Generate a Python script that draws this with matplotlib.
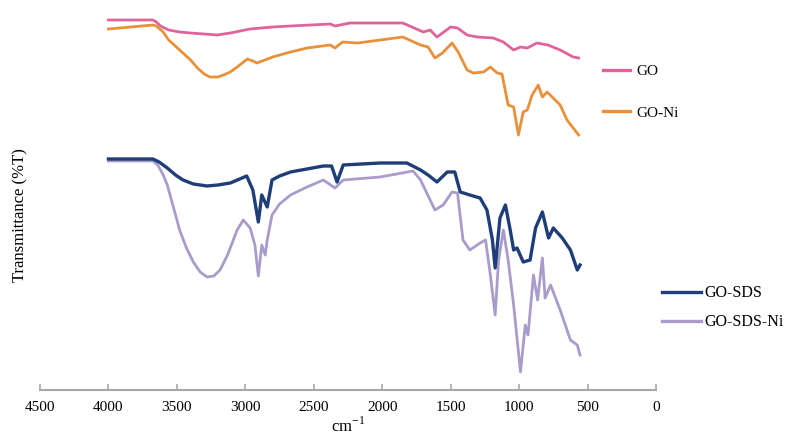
import matplotlib.pyplot as plt
from matplotlib.lines import Line2D

plt.rcParams['font.family'] = ['Liberation Serif', 'DejaVu Serif']

# wavenumber (cm-1) / transmittance (arbitrary units)
go_x = [4000, 3675, 3650, 3620, 3560, 3480, 3400, 3300, 3205, 3110, 2965, 2800, 2670,
        2380, 2345, 2235, 1940, 1850, 1700, 1650, 1600, 1500, 1450, 1380, 1305, 1190,
        1115, 1040, 990, 940, 870, 790, 700, 605, 565]
go_y = [370, 370, 368, 364, 360, 358, 357, 356, 355, 357, 361, 363, 364,
        366, 364, 367, 367, 367, 358, 360, 353, 363, 362, 355, 353, 352,
        348, 340, 343, 342, 347, 345, 340, 333, 332]

goni_x = [4000, 3675, 3650, 3600, 3560, 3480, 3400, 3350, 3300, 3260, 3200, 3160, 3110,
          3060, 2985, 2945, 2915, 2800, 2670, 2550, 2380, 2345, 2290, 2180, 2015, 1850,
          1720, 1665, 1615, 1560, 1490, 1445, 1380, 1335, 1260, 1210, 1160, 1125, 1080,
          1040, 1005, 970, 940, 905, 860, 830, 795, 700, 650, 605, 565]
goni_y = [361, 365, 364, 358, 350, 340, 330, 322, 316, 313, 313, 315, 318,
          323, 331, 329, 327, 333, 338, 342, 345, 342, 348, 347, 350, 353,
          345, 343, 332, 337, 347, 338, 320, 317, 318, 323, 317, 316, 285,
          283, 255, 278, 280, 295, 305, 293, 298, 285, 270, 262, 255]

sds_x = [4000, 3675, 3630, 3570, 3510, 3455, 3380, 3280, 3200, 3110, 2990, 2945, 2905,
         2880, 2840, 2805, 2750, 2670, 2550, 2430, 2370, 2330, 2285, 2015, 1820, 1720,
         1665, 1600, 1525, 1470, 1430, 1360, 1285, 1235, 1195, 1175, 1140, 1100, 1065,
         1040, 1015, 970, 920, 880, 830, 785, 750, 685, 625, 575, 555]
sds_y = [231, 231, 228, 222, 215, 210, 206, 204, 205, 207, 214, 200, 168,
         195, 183, 210, 214, 218, 221, 224, 224, 208, 225, 227, 227, 220,
         215, 208, 218, 218, 198, 195, 192, 180, 150, 122, 172, 185, 160,
         140, 142, 128, 130, 162, 178, 152, 162, 152, 140, 120, 125]

sdsni_x = [4000, 3675, 3640, 3600, 3570, 3530, 3480, 3430, 3380, 3330, 3280, 3230, 3185,
           3130, 3060, 3015, 2965, 2930, 2905, 2880, 2855, 2840, 2805, 2750, 2670, 2550,
           2430, 2345, 2285, 2015, 1775, 1720, 1615, 1555, 1490, 1450, 1410, 1360, 1285,
           1245, 1210, 1175, 1150, 1115, 1080, 1040, 990, 955, 935, 895, 865, 830,
           810, 770, 700, 625, 575, 555]
sdsni_y = [229, 229, 225, 215, 205, 185, 160, 142, 128, 118, 113, 114, 120,
           135, 160, 170, 162, 145, 114, 145, 135, 150, 175, 186, 195, 203,
           210, 202, 210, 213, 219, 210, 180, 185, 198, 197, 150, 140, 147,
           150, 115, 75, 130, 160, 130, 85, 18, 65, 55, 115, 90, 132,
           92, 105, 80, 50, 45, 35]

labels = ['GO', 'GO-Ni', 'GO-SDS', 'GO-SDS-Ni']
colors = ['#e0649c', '#e8913a', '#1f3d78', '#a99ccb']
xticks = [4500, 4000, 3500, 3000, 2500, 2000, 1500, 1000, 500, 0]

fig = plt.figure(figsize=(7.91, 4.47), dpi=100)
ax = fig.add_axes([40 / 791, 57 / 447, 616 / 791, 390 / 447])

ax.plot(go_x, go_y, color=colors[0], lw=2)
ax.plot(goni_x, goni_y, color=colors[1], lw=2)
ax.plot(sdsni_x, sdsni_y, color=colors[3], lw=2)
ax.plot(sds_x, sds_y, color=colors[2], lw=2.4)

ax.set_xlim(4500, 0)
ax.set_ylim(0, 390)
ax.set_xticks(xticks)
ax.set_yticks([])
for s in ['top', 'right', 'left']:
    ax.spines[s].set_visible(False)
ax.spines['bottom'].set_color('#a8a8a8')
ax.spines['bottom'].set_linewidth(1.5)
ax.tick_params(axis='x', direction='in', length=4, width=1.2, color='#a8a8a8',
               labelsize=11, pad=8)
ax.set_xlabel('cm$^{\\mathregular{-1}}$', fontsize=12, labelpad=2)
fig.text(20 / 791, 1 - 215 / 447, 'Transmittance (%T)', rotation=90,
         ha='center', va='center', fontsize=12)

h = [Line2D([], [], color=c, lw=2.4) for c in colors]
leg1 = ax.legend(h[:2], labels[:2], loc='upper left', frameon=False, fontsize=11,
                 bbox_to_anchor=(589 / 791, 1 - 51 / 447), bbox_transform=fig.transFigure,
                 handlelength=1.8, handletextpad=0.4, labelspacing=1.8)
ax.add_artist(leg1)
ax.legend(h[2:], labels[2:], loc='upper left', frameon=False, fontsize=11.5,
          bbox_to_anchor=(648 / 791, 1 - 271 / 447), bbox_transform=fig.transFigure,
          handlelength=2.4, handletextpad=0.2, labelspacing=0.8)

fig.savefig('out.png', dpi=100)
